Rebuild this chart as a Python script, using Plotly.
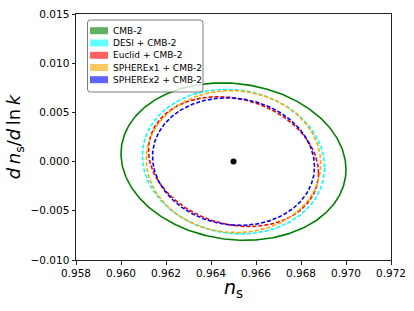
import numpy as np
import plotly.graph_objects as go

# ---- data ----
labels = ["CMB-2", "DESI + CMB-2", "Euclid + CMB-2", "SPHEREx1 + CMB-2", "SPHEREx2 + CMB-2"]
fid_ns = 0.965
fid_alpha = 0.0
sigma_ns = [0.00500, 0.00405, 0.00378, 0.00388, 0.00360]
sigma_alpha = [0.00800, 0.00735, 0.00660, 0.00722, 0.00648]
rho = [-0.10, -0.08, -0.18, -0.03, -0.08]
line_colors = ["#008000", "#00ffff", "#ff0000", "#ffa500", "#0000ff"]
patch_colors = ["rgba(0,128,0,0.62)", "rgba(0,255,255,0.62)", "rgba(255,0,0,0.62)",
                "rgba(255,165,0,0.62)", "rgba(0,0,255,0.62)"]
dashes = ["solid", "4px,2px", "4px,2px", "4px,2px", "4px,2px"]
x_ticks = [0.958, 0.960, 0.962, 0.964, 0.966, 0.968, 0.970, 0.972]
y_ticks = [-0.010, -0.005, 0.000, 0.005, 0.010, 0.015]
x_title = "<i>n</i><sub>s</sub>"
y_title = "<i>d</i>\u2009<i>n</i><sub>s</sub>/<i>d</i>\u2009ln\u2009<i>k</i>"

W, H = 414, 311
L, R, T, B = 76, 23, 14, 51
pw, ph = W - L - R, H - T - B

def px(xp):
    return (xp - L) / pw

def py(yp):
    return (H - B - yp) / ph

fig = go.Figure()
t = np.linspace(0, 2 * np.pi, 400)
for i, lab in enumerate(labels):
    sx, sy, r = sigma_ns[i], sigma_alpha[i], rho[i]
    xs = fid_ns + sx * np.cos(t)
    ys = fid_alpha + sy * (r * np.cos(t) + np.sqrt(1 - r * r) * np.sin(t))
    fig.add_trace(go.Scatter(x=xs, y=ys, mode="lines", name=lab, showlegend=False,
                             line=dict(color=line_colors[i], width=1.6, dash=dashes[i])))

fig.add_trace(go.Scatter(x=[fid_ns], y=[fid_alpha], mode="markers", showlegend=False,
                         marker=dict(color="black", size=6)))

# manual legend (matplotlib-like patches)
shapes = []
annotations = []
bx0, bx1, by0, by1 = 87.5, 203, 20, 92
rad = 3
def P(x, y):
    return f"{px(x)},{py(y)}"
path = (f"M{P(bx0+rad,by0)} L{P(bx1-rad,by0)} Q{P(bx1,by0)} {P(bx1,by0+rad)} "
        f"L{P(bx1,by1-rad)} Q{P(bx1,by1)} {P(bx1-rad,by1)} L{P(bx0+rad,by1)} "
        f"Q{P(bx0,by1)} {P(bx0,by1-rad)} L{P(bx0,by0+rad)} Q{P(bx0,by0)} {P(bx0+rad,by0)} Z")
shapes.append(dict(type="path", xref="paper", yref="paper", path=path, layer="above",
                   fillcolor="rgba(255,255,255,0.8)", line=dict(color="rgba(110,110,110,0.9)", width=1)))
ycent = [30.7, 43.0, 55.3, 67.5, 79.7]
for i, lab in enumerate(labels):
    yc = ycent[i]
    shapes.append(dict(type="rect", xref="paper", yref="paper", layer="above",
                       x0=px(90), x1=px(108), y0=py(yc + 3.5), y1=py(yc - 3.5),
                       fillcolor=patch_colors[i], line=dict(width=0)))
    annotations.append(dict(xref="paper", yref="paper", x=px(110.5), y=py(yc), text=lab,
                            xanchor="left", yanchor="middle", showarrow=False,
                            font=dict(family="DejaVu Sans", size=9, color="black")))

# x-axis title as annotation (placed a little closer to the ticks than plotly allows)
annotations.append(dict(xref="paper", yref="paper", x=0.5, y=py(288), text=x_title,
                        xanchor="center", yanchor="middle", showarrow=False,
                        font=dict(family="DejaVu Sans", size=19, color="black")))

fig.update_layout(
    width=W, height=H,
    margin=dict(l=L, r=R, t=T, b=B, autoexpand=False),
    paper_bgcolor="white", plot_bgcolor="white",
    font=dict(family="DejaVu Sans", color="black"),
    shapes=shapes, annotations=annotations,
    showlegend=False,
)
axis_common = dict(showgrid=False, zeroline=False, showline=True, linecolor="#222", linewidth=1,
                   mirror=True, ticks="outside", ticklen=3.5, tickwidth=0.8, tickcolor="#222",
                   tickfont=dict(family="DejaVu Sans", size=10.5, color="black"))
fig.update_xaxes(range=[0.958, 0.972], tickvals=x_ticks, tickformat=".3f", **axis_common)
fig.update_yaxes(range=[-0.010, 0.015], tickvals=y_ticks, tickformat=".3f",
                 title=dict(text=y_title, font=dict(family="DejaVu Sans", size=18), standoff=5),
                 **axis_common)

fig.write_html("out.html", config={"displayModeBar": False},
               post_script="document.body.style.margin='0px';document.body.style.padding='0px';")
